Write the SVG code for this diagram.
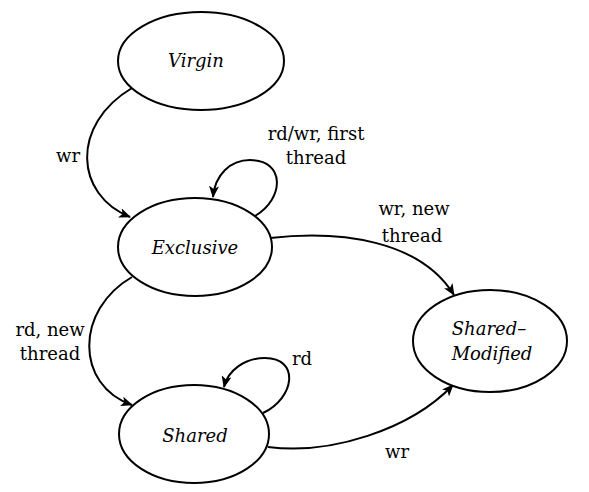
<svg xmlns="http://www.w3.org/2000/svg" width="589" height="492" viewBox="0 0 589 492">
<style>
.node{fill:#fff;stroke:#000;stroke-width:2}
.nt{font-family:'DejaVu Serif','Liberation Serif',serif;font-style:italic;font-size:18px;text-anchor:middle;fill:#000}
.lb{font-family:'DejaVu Serif','Liberation Serif',serif;font-size:18px;text-anchor:middle;fill:#000}
.edge{fill:none;stroke:#000;stroke-width:2;marker-end:url(#arr)}
</style>
<defs>
<marker id="arr" viewBox="0 0 12 10" refX="11" refY="5" markerWidth="12" markerHeight="10" markerUnits="userSpaceOnUse" orient="auto">
<path d="M0,0 L12,5 L0,10 L3,5 Z" fill="#000"/>
</marker>
</defs>
<rect width="589" height="492" fill="#fff"/>
<g id="connectors">
<path class="edge" d="M132,88 C70,125 75,195 130,217"/>
<path class="edge" d="M255,216 C285,198 285,160 250,160 C230,160 215,175 213,197"/>
<path class="edge" d="M270,238 C340,230 420,240 454,295"/>
<path class="edge" d="M132,277 C75,310 75,385 132,405"/>
<path class="edge" d="M263,413 C295,398 300,358 265,358 C245,358 228,370 224,387"/>
<path class="edge" d="M268,447 C330,455 410,430 453,385"/>
<text class="lb" x="68" y="162">wr</text>
<text class="lb" x="316" y="140">rd/wr, first</text>
<text class="lb" x="316" y="164">thread</text>
<text class="lb" x="414" y="215">wr, new</text>
<text class="lb" x="412" y="242">thread</text>
<text class="lb" x="50" y="336">rd, new</text>
<text class="lb" x="50" y="360">thread</text>
<text class="lb" x="302" y="365">rd</text>
<text class="lb" x="397" y="458">wr</text>
</g>
<g id="virgin">
<ellipse class="node" cx="201" cy="61" rx="83" ry="49"/>
<text class="nt" x="196" y="67">Virgin</text>
</g>
<g id="exclusive">
<ellipse class="node" cx="195" cy="247" rx="77" ry="49"/>
<text class="nt" x="195" y="254">Exclusive</text>
</g>
<g id="shared-modified">
<ellipse class="node" cx="490" cy="341" rx="77" ry="51"/>
<text class="nt" x="489" y="335">Shared–</text>
<text class="nt" x="492" y="360">Modified</text>
</g>
<g id="shared">
<ellipse class="node" cx="194" cy="434" rx="75" ry="49"/>
<text class="nt" x="195" y="442">Shared</text>
</g>
</svg>
